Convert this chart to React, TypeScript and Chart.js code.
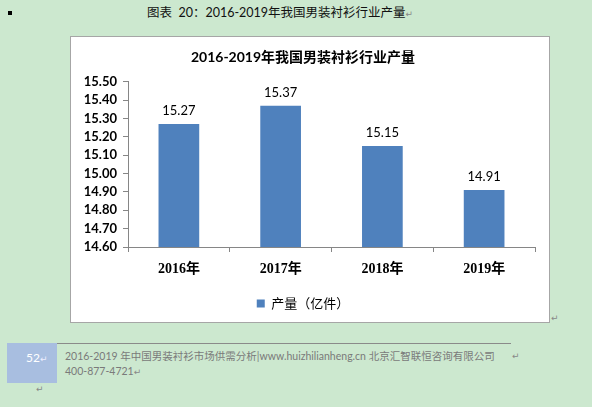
import React, { useEffect, useRef } from "react";
import { Chart, registerables } from "chart.js";

Chart.register(...registerables);

const categories = ["2016年", "2017年", "2018年", "2019年"];
const values = [15.27, 15.37, 15.15, 14.91];
const seriesName = "产量（亿件）";
const chartTitle = "2016-2019年我国男装衬衫行业产量";
const yMin = 14.6;
const yMax = 15.5;
const yStep = 0.1;
const captionText = "图表  20：2016-2019年我国男装衬衫行业产量";
const footerLine1 = "2016-2019 年中国男装衬衫市场供需分析|www.huizhilianheng.cn 北京汇智联恒咨询有限公司";
const footerLine2 = "400-877-4721";
const pageNumber = "52";

const BAR = "#4f81bd";
const AXIS = "#868686";

const labelPlugin = {
  id: "valueLabels",
  afterDatasetsDraw(chart: any) {
    const ctx = chart.ctx;
    const meta = chart.getDatasetMeta(0);
    ctx.save();
    ctx.font = "13px Lato, 'Noto Sans CJK SC'";
    ctx.fillStyle = "#000";
    ctx.textAlign = "center";
    ctx.textBaseline = "middle";
    meta.data.forEach((el: any, i: number) => {
      ctx.fillText(values[i].toFixed(2), el.x, el.y - 13);
    });
    ctx.restore();
  },
};

function BarChart() {
  const ref = useRef<HTMLCanvasElement | null>(null);
  useEffect(() => {
    if (!ref.current) return;
    const chart = new Chart(ref.current, {
      type: "bar",
      data: {
        labels: categories,
        datasets: [
          {
            label: seriesName,
            data: values,
            backgroundColor: BAR,
            borderWidth: 0,
            barPercentage: 0.4,
            categoryPercentage: 1,
          },
        ],
      },
      options: {
        responsive: false,
        animation: false,
        devicePixelRatio: 1,
        layout: { padding: { left: 0, right: 14, top: 0, bottom: 2 } },
        plugins: {
          title: {
            display: true,
            text: chartTitle,
            color: "#000",
            font: { family: "Lato, 'Noto Sans CJK SC'", size: 14, weight: "bold" },
            padding: { top: 12, bottom: 16 },
          },
          legend: {
            position: "bottom",
            labels: {
              boxWidth: 8,
              boxHeight: 8,
              color: "#000",
              font: { family: "'Noto Sans CJK SC'", size: 13 },
              padding: 10,
            },
          },
          tooltip: { enabled: false },
        },
        scales: {
          x: {
            grid: { drawOnChartArea: false, tickLength: 5, color: AXIS, offset: true },
            border: { color: AXIS },
            ticks: {
              color: "#000",
              font: { family: "'Liberation Serif', 'Noto Sans CJK SC'", size: 14, weight: "bold" },
              padding: 9,
              maxRotation: 0,
            },
            afterFit: (s: any) => {
              s.height = 40;
            },
          },
          y: {
            min: yMin,
            max: yMax,
            grid: { drawOnChartArea: false, tickLength: 5, color: AXIS },
            border: { color: AXIS },
            ticks: {
              stepSize: yStep,
              autoSkip: false,
              color: "#000",
              padding: 6,
              font: { family: "Lato", size: 13, weight: "bold" },
              callback: (v: any) => Number(v).toFixed(2),
            },
            afterFit: (s: any) => {
              s.width = 57;
            },
          },
        },
      },
      plugins: [labelPlugin],
    });
    return () => chart.destroy();
  }, []);
  return <canvas ref={ref} width={478} height={285} style={{ display: "block", width: 478, height: 285 }} />;
}

const ret = { color: "#888", fontFamily: "'DejaVu Sans'", fontSize: 9 } as const;

export default function App() {
  return (
    <div
      style={{
        position: "fixed",
        left: 0,
        top: 0,
        width: 592,
        height: 407,
        background: "#cce8cf",
        overflow: "hidden",
        fontFamily: "Lato, 'Noto Sans CJK SC', sans-serif",
      }}
    >
      <div style={{ position: "absolute", left: 8, top: 11, width: 4, height: 4, background: "#000" }} />
      <div
        style={{
          position: "absolute",
          left: 147,
          top: 4,
          fontSize: 12.5,
          lineHeight: "18px",
          color: "#111",
          whiteSpace: "pre",
        }}
      >
        {captionText}
        <span style={ret}>↵</span>
      </div>
      <div
        style={{
          position: "absolute",
          left: 70,
          top: 36,
          width: 480,
          height: 287,
          border: "1px solid #a6a6a6",
          boxSizing: "border-box",
          background: "#fff",
        }}
      >
        <BarChart />
      </div>
      <div style={{ position: "absolute", left: 551, top: 313, ...ret }}>↵</div>
      <div style={{ position: "absolute", left: 57, top: 343, width: 454, height: 1, background: "#8a8a8a" }} />
      <div
        style={{
          position: "absolute",
          left: 7,
          top: 343,
          width: 50,
          height: 40,
          background: "#a8bee0",
        }}
      />
      <div
        style={{
          position: "absolute",
          left: 26,
          top: 350,
          fontSize: 12,
          lineHeight: "16px",
          color: "#fff",
        }}
      >
        {pageNumber}
        <span style={{ ...ret, color: "#eef" }}>↵</span>
      </div>
      <div
        style={{
          position: "absolute",
          left: 65,
          top: 349,
          fontSize: 10.5,
          lineHeight: "15px",
          color: "#7a7a7a",
          whiteSpace: "pre",
        }}
      >
        <div>{footerLine1}</div>
        <div>
          {footerLine2}
          <span style={ret}>↵</span>
        </div>
      </div>
      <div style={{ position: "absolute", left: 512, top: 351, ...ret }}>↵</div>
      <div style={{ position: "absolute", left: 36, top: 384, ...ret }}>↵</div>
    </div>
  );
}
